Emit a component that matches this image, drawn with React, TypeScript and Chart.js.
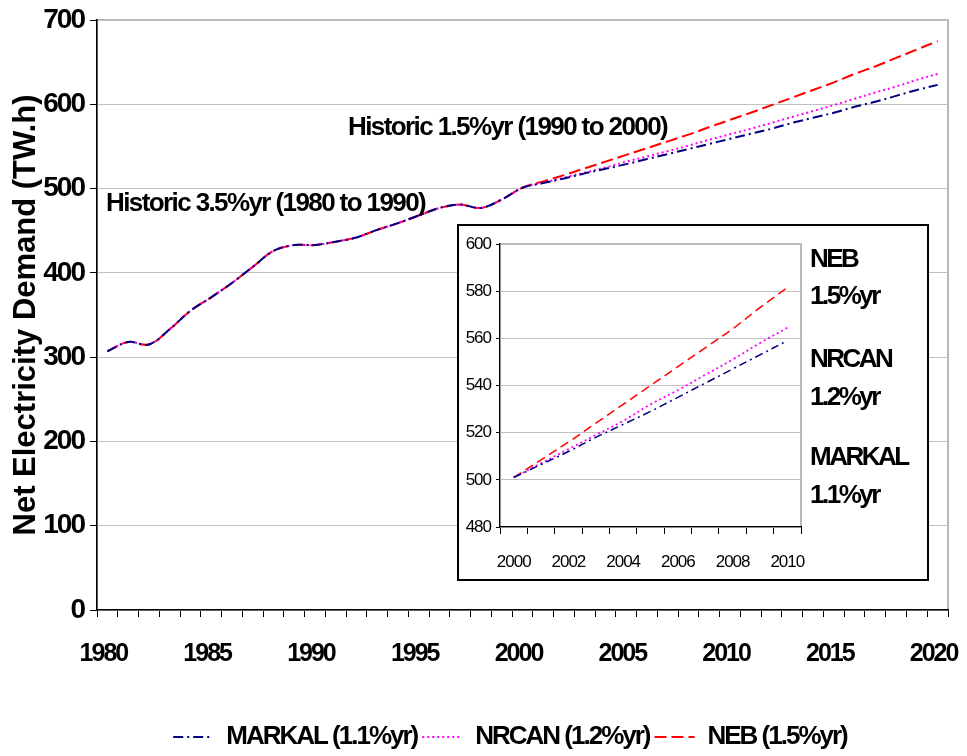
import React, { useEffect, useRef } from 'react';
import { Chart, registerables } from 'chart.js';

Chart.register(...registerables);

// ---------- DATA ----------
const years = [
  '1980', '1981', '1982', '1983', '1984', '1985', '1986', '1987', '1988', '1989',
  '1990', '1991', '1992', '1993', '1994', '1995', '1996', '1997', '1998', '1999',
  '2000', '2001', '2002', '2003', '2004', '2005', '2006', '2007', '2008', '2009',
  '2010', '2011', '2012', '2013', '2014', '2015', '2016', '2017', '2018', '2019', '2020',
];

// Historic values 1980-2000 (TW.h)
const historic = [
  307, 318, 315, 333, 355, 371, 388, 407, 426, 433,
  433, 437, 442, 451, 459, 468, 477, 481, 477, 487, 501,
];

// Projections 2001-2020
const markalProj = [
  506.5, 512, 518, 523.5, 529, 535, 541, 547, 553, 559,
  565, 571, 578, 584, 590, 597, 603, 610, 617, 623,
];
const nrcanProj = [
  507, 513, 519, 525, 532, 538, 544.5, 551, 558, 564.5,
  571, 578, 585, 592, 599, 606.5, 614, 621, 629, 636,
];
const nebProj = [
  508.5, 516, 524, 532, 540, 548, 556, 564, 573, 581.5,
  590, 599, 608, 617, 626, 636, 645, 655, 665, 675,
];

const seriesNames = ['MARKAL (1.1%yr)', 'NRCAN (1.2%yr)', 'NEB (1.5%yr)'];
const insetNotes = ['NEB', '1.5%yr', 'NRCAN', '1.2%yr', 'MARKAL', '1.1%yr'];
const historicNotes = ['Historic 3.5%yr (1980 to 1990)', 'Historic 1.5%yr (1990 to 2000)'];
const mainYTicks = [0, 700, 100];
const insetYTicks = [480, 600, 20];

// ---------- STYLE ----------
const SANS = "'Liberation Sans', Arial, sans-serif";
const NAVY = '#000080';
const MAGENTA = '#ff00ff';
const RED = '#ff0000';
const DASH_MARKAL = [10, 4, 2, 4];
const DASH_NRCAN = [2, 3];
const DASH_NEB = [12, 5];

const setSpacing = (ctx: any, v: string) => {
  if (ctx && 'letterSpacing' in ctx) ctx.letterSpacing = v;
};

const spacingPlugin = (id: string, spacing: string) => ({
  id,
  beforeLayout(chart: any) { setSpacing(chart.ctx, spacing); },
  beforeDraw(chart: any) { setSpacing(chart.ctx, spacing); },
  afterLayout(chart: any) {
    // the axis title keeps normal letter spacing
    Object.values(chart.scales).forEach((s: any) => {
      if (s._titlePatched) return;
      const orig = s.drawTitle;
      s.drawTitle = function (...args: any[]) {
        setSpacing(this.ctx, '0px');
        orig.apply(this, args);
        setSpacing(this.ctx, spacing);
      };
      s._titlePatched = true;
    });
  },
});

// nudges the bottom legend to the right, as in the original layout
const legendShift = {
  id: 'legendShift',
  afterLayout(chart: any) {
    const lg = chart.legend;
    if (!lg) return;
    lg.left += 32;
    lg.right += 32;
  },
};

const frame = (id: string) => ({
  id,
  beforeDraw(chart: any) {
    const { ctx, chartArea } = chart;
    if (!chartArea) return;
    ctx.save();
    ctx.strokeStyle = '#a0a0a0';
    ctx.lineWidth = 1.5;
    ctx.strokeRect(chartArea.left, chartArea.top, chartArea.right - chartArea.left, chartArea.bottom - chartArea.top);
    ctx.restore();
  },
});

const mainNotesPlugin = {
  id: 'mainNotes',
  afterDraw(chart: any) {
    const { ctx } = chart;
    ctx.save();
    setSpacing(ctx, '-1.6px');
    ctx.fillStyle = '#000';
    ctx.font = `bold 26px ${SANS}`;
    ctx.textBaseline = 'middle';
    ctx.textAlign = 'left';
    ctx.fillText(historicNotes[0], 98, 196);
    ctx.fillText(historicNotes[1], 340, 120);
    ctx.restore();
  },
};

const insetNotesPlugin = {
  id: 'insetNotes',
  afterDraw(chart: any) {
    const { ctx, chartArea } = chart;
    ctx.save();
    setSpacing(ctx, '-2.5px');
    ctx.fillStyle = '#000';
    ctx.font = `bold 26px ${SANS}`;
    ctx.textBaseline = 'middle';
    ctx.textAlign = 'left';
    const x = chartArea.right + 9;
    const ys = [34, 71, 134, 172, 232, 270];
    insetNotes.forEach((t, i) => ctx.fillText(t, x, ys[i]));
    ctx.restore();
  },
};

export default function App() {
  const mainRef = useRef<HTMLCanvasElement>(null);
  const insetRef = useRef<HTMLCanvasElement>(null);

  useEffect(() => {
    const markal = [...historic, ...markalProj];
    const nrcan = [...historic, ...nrcanProj];
    const neb = [...historic, ...nebProj];

    const lineDs = (label: string, data: number[], color: string, dash: number[], width: number) => ({
      label,
      data,
      borderColor: color,
      backgroundColor: color,
      borderDash: dash,
      borderWidth: width,
      pointRadius: 0,
      pointStyle: 'line' as const,
      tension: 0.35,
      fill: false,
    });

    const main = new Chart(mainRef.current!, {
      type: 'line',
      data: {
        labels: years,
        datasets: [
          lineDs(seriesNames[0], markal, NAVY, DASH_MARKAL, 2),
          lineDs(seriesNames[1], nrcan, MAGENTA, DASH_NRCAN, 2),
          lineDs(seriesNames[2], neb, RED, DASH_NEB, 2),
        ],
      },
      options: {
        animation: false,
        responsive: false,
        maintainAspectRatio: false,
        layout: { padding: { left: 0, top: 12, right: 11, bottom: -4 } },
        plugins: {
          legend: {
            position: 'bottom',
            labels: {
              usePointStyle: true,
              pointStyle: 'line',
              pointStyleWidth: 40,
              padding: 5,
              color: '#000',
              font: { family: SANS, size: 26, weight: 'bold' },
              generateLabels: (chart: any) =>
                Chart.defaults.plugins.legend.labels.generateLabels(chart).map((item: any) => {
                  const ds: any = chart.data.datasets[item.datasetIndex];
                  return {
                    ...item,
                    lineDash: ds.borderDash,
                    strokeStyle: ds.borderColor,
                    fillStyle: ds.borderColor,
                    lineWidth: 2,
                    pointStyle: 'line',
                  };
                }),
            },
          },
          tooltip: { enabled: false },
        },
        scales: {
          x: {
            type: 'category',
            offset: true,
            afterFit: (s: any) => {
              s.height = 109;
              s.paddingLeft = 0;
              s.paddingRight = 0;
            },
            grid: { offset: true, drawOnChartArea: false, drawTicks: true, tickLength: 7, color: '#000', tickColor: '#000' },
            border: { color: '#000', width: 1.5 },
            ticks: {
              autoSkip: false,
              maxRotation: 0,
              padding: 22,
              labelOffset: -4,
              color: '#000',
              font: { family: SANS, size: 25, weight: 'bold' },
              callback: (_v: any, i: number) => (Number(years[i]) % 5 === 0 ? years[i] : ''),
            },
          },
          y: {
            min: mainYTicks[0],
            max: mainYTicks[1],
            afterFit: (s: any) => {
              s.width = 89;
              s.paddingTop = 0;
              s.paddingBottom = 0;
            },
            grid: { color: '#c0c0c0', lineWidth: 1, drawTicks: true, tickLength: 7, tickColor: '#000' },
            border: { color: '#000', width: 1.5 },
            ticks: {
              stepSize: mainYTicks[2],
              padding: 6,
              color: '#000',
              font: { family: SANS, size: 28, weight: 'bold' },
            },
            title: {
              display: true,
              text: 'Net Electricity Demand (TW.h)',
              color: '#000',
              padding: 0,
              font: { family: SANS, size: 31, weight: 'bold' },
            },
          },
        },
      },
      plugins: [spacingPlugin('mainSpacing', '-2px'), frame('mainFrame'), mainNotesPlugin, legendShift],
    });

    const insetLabels = years.slice(20, 31);
    const inset = new Chart(insetRef.current!, {
      type: 'line',
      data: {
        labels: insetLabels,
        datasets: [
          lineDs(seriesNames[0], markal.slice(20, 31), NAVY, [8, 4, 2, 4], 1.5),
          lineDs(seriesNames[1], nrcan.slice(20, 31), MAGENTA, [2, 3], 1.8),
          lineDs(seriesNames[2], neb.slice(20, 31), RED, [9, 5], 1.5),
        ],
      },
      options: {
        animation: false,
        responsive: false,
        maintainAspectRatio: false,
        layout: { padding: { left: 0, top: 18, right: 126, bottom: 0 } },
        plugins: { legend: { display: false }, tooltip: { enabled: false } },
        scales: {
          x: {
            type: 'category',
            offset: true,
            afterFit: (s: any) => {
              s.height = 52;
              s.paddingLeft = 0;
              s.paddingRight = 0;
            },
            grid: { offset: true, drawOnChartArea: false, drawTicks: true, tickLength: 7, color: '#000', tickColor: '#000' },
            border: { color: '#000', width: 1.2 },
            ticks: {
              autoSkip: false,
              maxRotation: 0,
              padding: 18,
              color: '#000',
              font: { family: SANS, size: 17 },
              callback: (_v: any, i: number) => (i % 2 === 0 ? insetLabels[i] : ''),
            },
          },
          y: {
            min: insetYTicks[0],
            max: insetYTicks[1],
            afterFit: (s: any) => {
              s.width = 41;
              s.paddingTop = 0;
              s.paddingBottom = 0;
            },
            grid: { color: '#c0c0c0', drawTicks: true, tickLength: 4, tickColor: '#000' },
            border: { color: '#000', width: 1.2 },
            ticks: {
              stepSize: insetYTicks[2],
              padding: 5,
              color: '#000',
              font: { family: SANS, size: 17 },
            },
          },
        },
      },
      plugins: [spacingPlugin('insetSpacing', '-1px'), frame('insetFrame'), insetNotesPlugin],
    });

    return () => {
      main.destroy();
      inset.destroy();
    };
  }, []);

  return (
    <div style={{ position: 'relative', width: 951, height: 748 }}>
      <canvas ref={mainRef} width={951} height={748} style={{ display: 'block', width: 951, height: 748 }} />
      <div
        style={{
          position: 'absolute',
          left: 449,
          top: 216,
          width: 472,
          height: 357,
          boxSizing: 'border-box',
          border: '2px solid #000',
          background: '#fff',
        }}
      >
        <canvas ref={insetRef} width={468} height={353} style={{ display: 'block', width: 468, height: 353 }} />
      </div>
    </div>
  );
}
